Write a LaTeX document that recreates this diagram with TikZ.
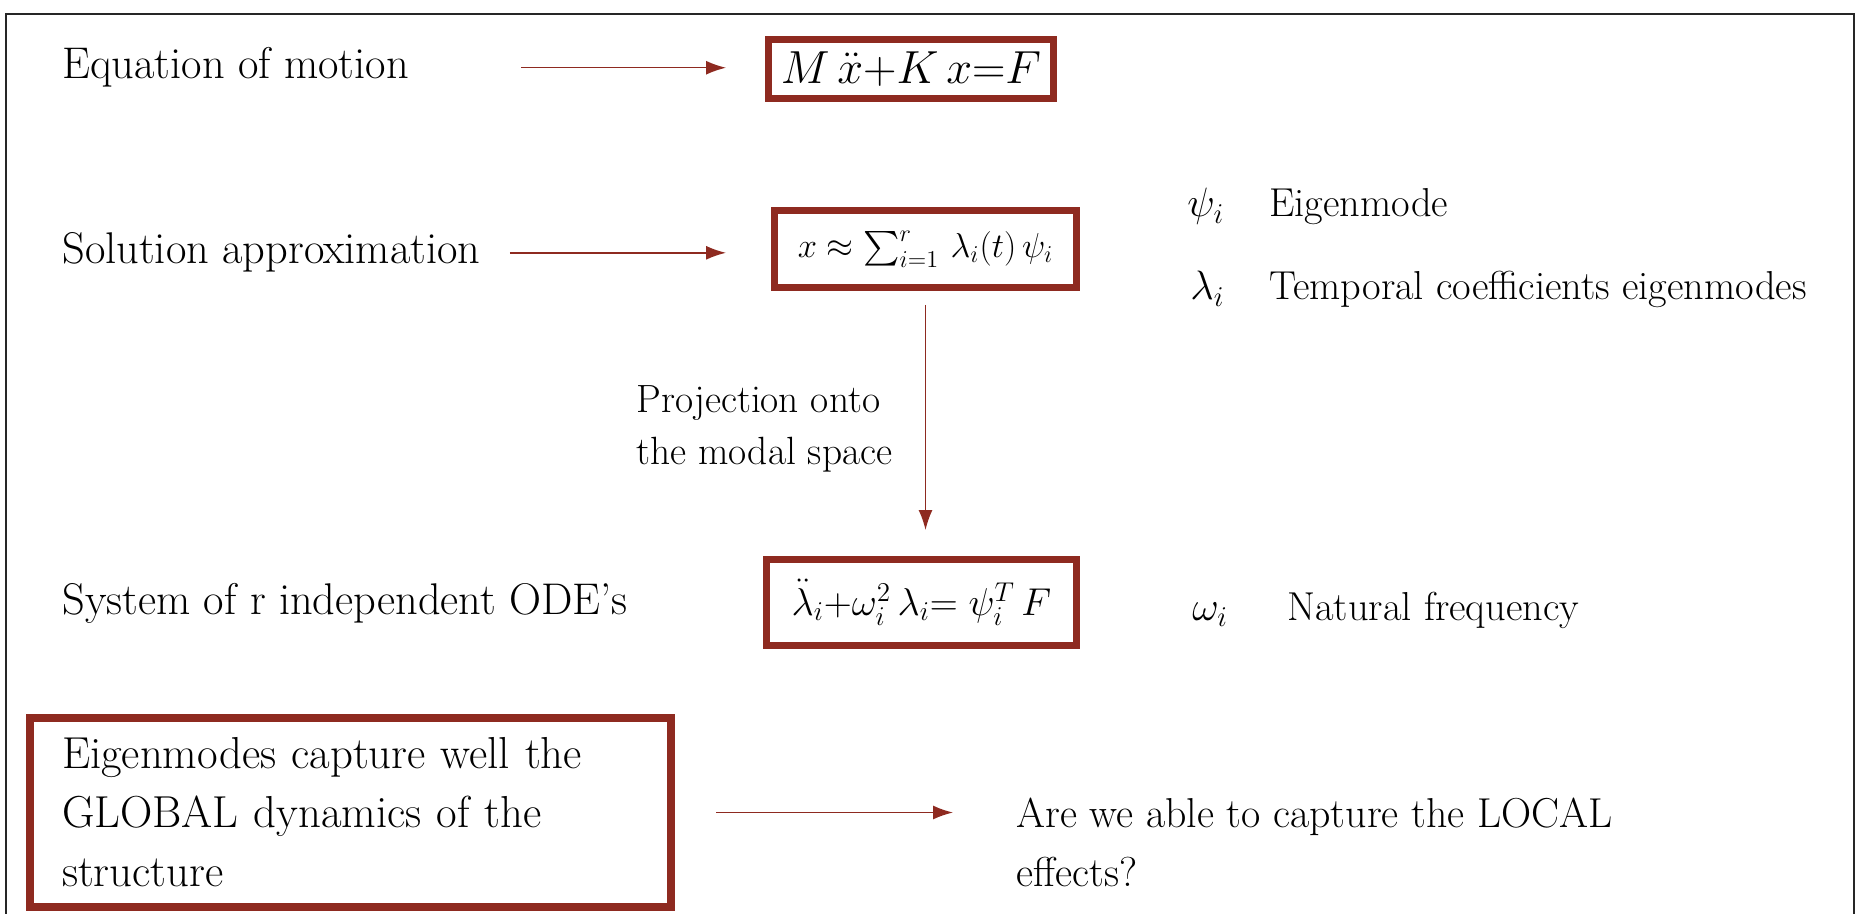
\RequirePackage{fix-cm}
\documentclass[tikz,border=0pt]{standalone}
\usepackage{amsmath}
\usetikzlibrary{arrows.meta,calc}
\definecolor{dred}{RGB}{142,42,32}
\begin{document}
\begin{tikzpicture}[x=0.5pt,y=-0.5pt,
  lab/.style={anchor=base west,inner sep=0pt,font=\fontsize{22.2}{27}\selectfont},
  side/.style={anchor=base west,inner sep=0pt,font=\fontsize{20.2}{24}\selectfont},
  sidem/.style={anchor=base west,inner sep=0pt,font=\fontsize{20.5}{24}\selectfont},
  eqbox/.style={draw=dred,line width=3.5pt,fill=white,inner sep=0pt},
  arr/.style={draw=dred,line width=0.75pt,-{Latex[length=10pt,width=7pt]}}]
\useasboundingbox (0,0) rectangle (1856,914);
\draw[line width=1pt,black!85] (6,914) -- (6,14) -- (1854,14) -- (1854,914);

% left labels
\node[lab] (l1) at (62,79) {Equation of motion};
\node[lab] (l2) at (62,264) {Solution approximation};
\node[lab] (l3) at (62,614) {System of r independent ODE’s};

% equation boxes
\node[eqbox,minimum width=142.5pt,minimum height=29.5pt] (b1) at (911,69)
  {\fontsize{23.2}{27}\selectfont$M\,\ddot{x}{+}K\,x{=}F$};
\node[eqbox,minimum width=151pt,minimum height=38.5pt] (b2) at (925.5,249)
  {\fontsize{17.3}{21}\selectfont$\textstyle x\approx\sum_{i=1}^{r}\,\lambda_i(t)\,\psi_i$};
\node[eqbox,minimum width=155pt,minimum height=43pt] (b3) at (921.5,602.5)
  {\fontsize{19.4}{23}\selectfont$\ddot{\lambda}_i{+}\omega_i^2\,\lambda_i{=}\;\psi_i^T\,F$};

% side legend
\node[sidem] (m1) at (1187,217) {$\psi_i$};
\node[side] (t1) at (1269,217) {Eigenmode};
\node[sidem] (m2) at (1190,300) {$\lambda_i$};
\node[side] (t2) at (1269,300) {Temporal coefficients eigenmodes};
\node[sidem] (m3) at (1192,620) {$\omega_i$};
\node[side] (t3) at (1287,620) {Natural frequency};

% projection label
\node[anchor=west,inner sep=0pt,align=left,font=\fontsize{19.7}{26}\selectfont] (p) at (636,429)
  {Projection onto\\the modal space};

% bottom
\node[draw=dred,line width=4pt,inner sep=0pt,text width=288.5pt,align=left,
  minimum width=320.5pt,minimum height=94.5pt,font=\fontsize{22.4}{29.5}\selectfont] (b4) at (350.5,812.5)
  {Eigenmodes capture well the\\GLOBAL dynamics of the\\structure};
\node[anchor=west,inner sep=0pt,align=left,font=\fontsize{20.9}{29.5}\selectfont] (q) at (1016,842)
  {Are we able to capture the LOCAL\\effects?};

% arrows
\draw[arr,shorten <=56pt,shorten >=19.5pt] (l1.east) -- (l1.east -| b1.west);
\draw[arr,shorten <=14.5pt,shorten >=22.5pt] (l2.east) -- (l2.east -| b2.west);
\draw[arr,shorten <=7pt,shorten >=13pt] (b2.south) -- (b2.south |- b3.north);
\draw[arr,shorten <=20.5pt,shorten >=31.5pt] (b4.east) -- (b4.east -| q.west);
\end{tikzpicture}
\end{document}
